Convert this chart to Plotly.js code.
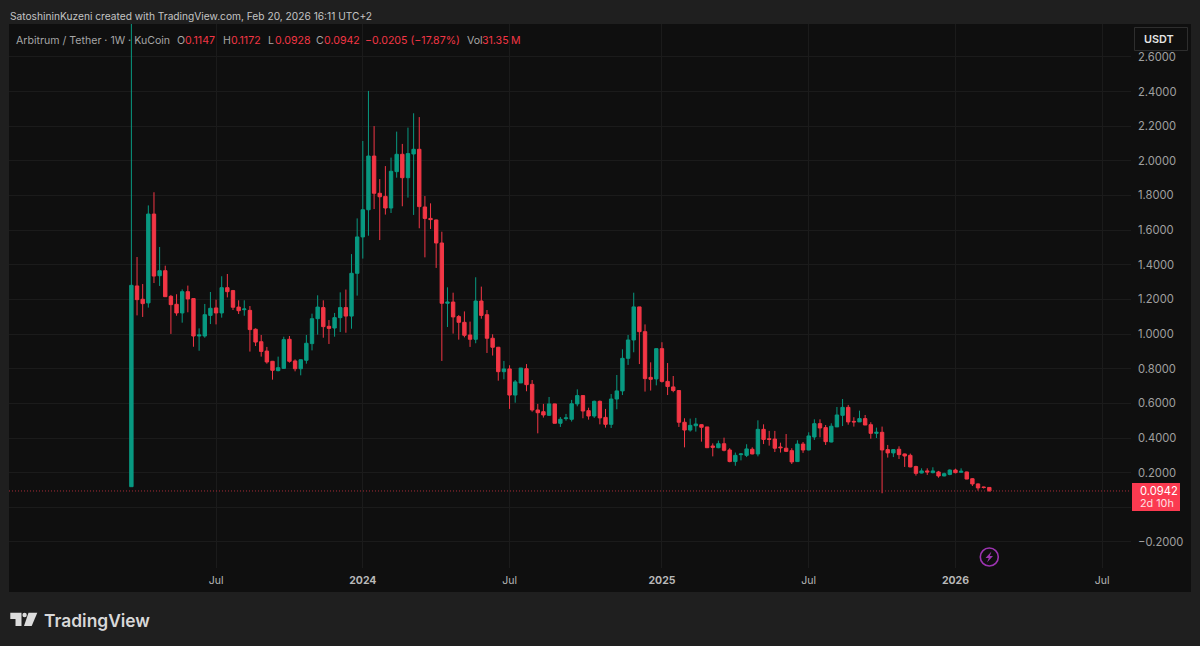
<!DOCTYPE html>
<html><head><meta charset="utf-8">
<script src="https://cdn.plot.ly/plotly-3.0.1.min.js"></script>
<style>html,body{margin:0;padding:0;background:#1f1f1f;overflow:hidden}#c{width:1200px;height:646px}</style>
</head><body><div id="c"></div>
<script>
const weeks = [
"2023-03-20","2023-03-27","2023-04-03","2023-04-10","2023-04-17","2023-04-24","2023-05-01","2023-05-08","2023-05-15","2023-05-22",
"2023-05-29","2023-06-05","2023-06-12","2023-06-19","2023-06-26","2023-07-03","2023-07-10","2023-07-17","2023-07-24","2023-07-31",
"2023-08-07","2023-08-14","2023-08-21","2023-08-28","2023-09-04","2023-09-11","2023-09-18","2023-09-25","2023-10-02","2023-10-09",
"2023-10-16","2023-10-23","2023-10-30","2023-11-06","2023-11-13","2023-11-20","2023-11-27","2023-12-04","2023-12-11","2023-12-18",
"2023-12-25","2024-01-01","2024-01-08","2024-01-15","2024-01-22","2024-01-29","2024-02-05","2024-02-12","2024-02-19","2024-02-26",
"2024-03-04","2024-03-11","2024-03-18","2024-03-25","2024-04-01","2024-04-08","2024-04-15","2024-04-22","2024-04-29","2024-05-06",
"2024-05-13","2024-05-20","2024-05-27","2024-06-03","2024-06-10","2024-06-17","2024-06-24","2024-07-01","2024-07-08","2024-07-15",
"2024-07-22","2024-07-29","2024-08-05","2024-08-12","2024-08-19","2024-08-26","2024-09-02","2024-09-09","2024-09-16","2024-09-23",
"2024-09-30","2024-10-07","2024-10-14","2024-10-21","2024-10-28","2024-11-04","2024-11-11","2024-11-18","2024-11-25","2024-12-02",
"2024-12-09","2024-12-16","2024-12-23","2024-12-30","2025-01-06","2025-01-13","2025-01-20","2025-01-27","2025-02-03","2025-02-10",
"2025-02-17","2025-02-24","2025-03-03","2025-03-10","2025-03-17","2025-03-24","2025-03-31","2025-04-07","2025-04-14","2025-04-21",
"2025-04-28","2025-05-05","2025-05-12","2025-05-19","2025-05-26","2025-06-02","2025-06-09","2025-06-16","2025-06-23","2025-06-30",
"2025-07-07","2025-07-14","2025-07-21","2025-07-28","2025-08-04","2025-08-11","2025-08-18","2025-08-25","2025-09-01","2025-09-08",
"2025-09-15","2025-09-22","2025-09-29","2025-10-06","2025-10-13","2025-10-20","2025-10-27","2025-11-03","2025-11-10","2025-11-17",
"2025-11-24","2025-12-01","2025-12-08","2025-12-15","2025-12-22","2025-12-29","2026-01-05","2026-01-12","2026-01-19","2026-01-26",
"2026-02-02","2026-02-09","2026-02-16"];
const opens = [
.119,1.278,1.201,1.180,1.693,1.337,1.366,1.218,1.172,1.122,
1.245,1.205,.989,.989,1.108,1.151,1.122,1.268,1.251,1.156,
1.141,1.137,1.028,.956,.902,.843,.789,.802,.970,.845,
.800,.849,.945,1.089,1.153,1.045,1.035,1.095,1.153,1.104,
1.351,1.561,1.718,2.028,1.813,1.795,1.728,1.938,2.038,1.903,
2.040,2.067,1.734,1.668,1.659,1.526,1.178,1.185,1.101,1.068,
.995,.970,1.191,1.112,.976,.924,.783,.799,.648,.718,
.800,.710,.562,.552,.531,.597,.485,.512,.508,.597,
.645,.558,.527,.612,.519,.479,.625,.672,.860,.966,
1.157,1.014,.750,.741,.916,.727,.695,.674,.491,.446,
.471,.477,.464,.354,.344,.367,.331,.264,.304,.300,
.335,.308,.450,.396,.394,.348,.341,.327,.264,.365,
.331,.406,.483,.460,.377,.464,.531,.577,.496,.493,
.512,.477,.427,.433,.333,.314,.335,.308,.300,.235,
.198,.210,.200,.204,.181,.190,.215,.202,.204,.165,
.135,.117,.1147];
const highs = [
3.000,1.445,1.289,1.743,1.819,1.503,1.395,1.226,1.230,1.258,
1.280,1.205,1.033,1.174,1.243,1.199,1.334,1.347,1.255,1.195,
1.195,1.162,1.033,.995,.926,.845,.870,.985,.989,.854,
.854,.995,1.118,1.224,1.195,1.081,1.122,1.241,1.257,1.462,
1.668,2.115,2.404,2.201,1.895,1.970,2.019,2.169,2.098,2.192,
2.275,2.253,1.797,1.755,1.661,1.591,1.270,1.239,1.110,1.131,
1.072,1.328,1.274,1.139,.999,.926,.845,.820,.735,.804,
.827,.735,.597,.597,.637,.598,.521,.539,.620,.681,
.648,.575,.616,.616,.568,.654,.764,.912,.995,1.239,
1.157,1.056,.837,.918,.953,.833,.758,.675,.514,.512,
.516,.479,.464,.369,.385,.402,.341,.316,.312,.364,
.346,.502,.479,.441,.441,.373,.423,.341,.387,.377,
.433,.508,.508,.475,.485,.579,.625,.591,.520,.558,
.533,.491,.460,.466,.360,.335,.352,.310,.310,.240,
.225,.225,.231,.210,.200,.219,.223,.225,.206,.169,
.138,.119,.1172];
const lows = [
.119,1.108,1.099,1.153,1.295,1.278,1.216,1.001,1.106,1.066,
1.126,.927,.904,.979,1.058,1.056,1.095,1.212,1.139,1.116,
1.106,.899,.931,.870,.829,.737,.785,.799,.835,.785,
.762,.829,.906,.997,.979,.943,.985,1.012,1.008,1.031,
1.222,1.436,1.568,1.722,1.543,1.690,1.699,1.903,1.738,1.788,
1.688,1.611,1.443,1.607,1.382,.845,1.041,1.003,.968,.981,
.926,.947,1.089,.891,.876,.731,.739,.568,.604,.718,
.670,.552,.427,.518,.527,.485,.464,.500,.495,.583,
.514,.506,.516,.479,.460,.458,.566,.648,.822,.895,
.827,.668,.674,.704,.720,.648,.664,.464,.346,.437,
.437,.379,.344,.294,.341,.323,.260,.240,.271,.290,
.306,.294,.365,.356,.319,.316,.319,.250,.262,.314,
.329,.389,.404,.360,.375,.464,.469,.477,.466,.493,
.475,.396,.400,.081,.287,.290,.279,.233,.231,.183,
.196,.187,.196,.171,.179,.185,.196,.200,.162,.123,
.096,.108,.0928];
const closes = [
1.2815,1.199,1.176,1.693,1.335,1.366,1.216,1.170,1.122,1.245,
1.203,.989,.995,1.112,1.149,1.122,1.268,1.245,1.155,1.135,
1.145,1.026,.954,.900,.839,.791,.806,.968,.843,.800,
.852,.947,1.089,1.156,1.043,1.033,1.095,1.153,1.104,1.351,
1.561,1.718,2.028,1.813,1.793,1.728,1.940,2.038,1.903,2.042,
2.067,1.736,1.668,1.661,1.526,1.178,1.185,1.099,1.068,.993,
.970,1.191,1.108,.976,.924,.783,.799,.648,.724,.804,
.708,.562,.546,.533,.597,.485,.508,.516,.598,.645,
.556,.527,.612,.516,.479,.625,.672,.860,.966,1.157,
1.014,.743,.739,.916,.727,.697,.674,.491,.446,.473,
.481,.462,.344,.346,.367,.329,.264,.300,.308,.337,
.308,.450,.392,.392,.341,.344,.323,.262,.365,.331,
.412,.483,.458,.379,.468,.533,.577,.493,.493,.512,
.475,.427,.433,.331,.314,.333,.304,.296,.233,.196,
.210,.204,.210,.181,.194,.215,.200,.208,.163,.135,
.112,.1147,.0942];
const yTickVals = [-0.2,0,0.2,0.4,0.6,0.8,1,1.2,1.4,1.6,1.8,2,2.2,2.4,2.6];
const yTickText = ["\u22120.2000","","0.2000","0.4000","0.6000","0.8000","1.0000","1.2000","1.4000","1.6000","1.8000","2.0000","2.2000","2.4000","2.6000"];
const xTickVals = ["2023-07-03","2024-01-01","2024-07-01","2025-01-06","2025-07-07","2026-01-05","2026-07-06"];
const xTickText = ["Jul","<b>2024</b>","Jul","<b>2025</b>","Jul","<b>2026</b>","Jul"];

const RED="#f23645", GREEN="#089981", FONT="Inter, 'Liberation Sans', sans-serif";
const L=9,R=1131,T=24,B=568;
const px=x=>(x-L)/(R-L), py=y=>1-(y-T)/(B-T);
const P=(pts,close=true)=>pts.map((p,i)=>(i?"L":"M")+px(p[0])+","+py(p[1])).join("")+(close?"Z":"");
const paperShape=o=>Object.assign({xref:"paper",yref:"paper",line:{width:0}},o);
const txt=(x,y,t,size,color,extra={})=>Object.assign({xref:"paper",yref:"paper",x:px(x),y:py(y),text:t,showarrow:false,xanchor:"left",yanchor:"middle",borderpad:0,font:{family:FONT,size:size,color:color}},extra);

const shapes=[
 paperShape({type:"rect",x0:px(9),x1:px(1191),y0:py(24),y1:py(592),fillcolor:"#0f0f0f",layer:"below"}),
 {type:"line",xref:"paper",yref:"y",x0:0,x1:1,y0:closes[closes.length-1],y1:closes[closes.length-1],line:{color:"#a82c38",width:1,dash:"1px,2px"},layer:"above"},
 paperShape({type:"rect",x0:px(1132),x1:px(1180),y0:py(483),y1:py(511),fillcolor:"#fb3a50",layer:"above"}),
 paperShape({type:"rect",x0:px(1134.5),x1:px(1187.5),y0:py(27.5),y1:py(50.5),fillcolor:"#0f0f0f",line:{color:"#2e2e2e",width:1},layer:"above"}),
 paperShape({type:"circle",x0:px(980.3),x1:px(998.3),y0:py(548),y1:py(566),fillcolor:"rgba(0,0,0,0)",line:{color:"#9c34b0",width:1.6},layer:"above"}),
 paperShape({type:"path",path:P([[991.5,551.5],[985.5,558],[988.8,558],[987,562.5],[993,556],[989.8,556]]),fillcolor:"#9c34b0",layer:"above"}),
 paperShape({type:"path",path:P([[10.3,612.7],[21.5,612.7],[21.5,626],[15.5,626],[15.5,619],[10.3,619]]),fillcolor:"#dcdcdc",layer:"above"}),
 paperShape({type:"circle",x0:px(22.4),x1:px(26.8),y0:py(612.8),y1:py(617.2),fillcolor:"#dcdcdc",layer:"above"}),
 paperShape({type:"path",path:P([[28.5,612.7],[37.3,612.7],[31.7,626],[24,626]]),fillcolor:"#dcdcdc",layer:"above"})
];
const LS=10.6;
const annos=[
 txt(9,16,"SatoshininKuzeni created with TradingView.com, Feb 20, 2026 16:11 UTC+2",10.2,"#c4c4c4"),
 txt(15,40,"Arbitrum / Tether \u00b7 1W \u00b7 KuCoin",LS,"#a6a6a6"),
 txt(176,40,"O",LS,"#a6a6a6"),txt(184,40,"0.1147",LS,RED),
 txt(222,40,"H",LS,"#a6a6a6"),txt(230,40,"0.1172",LS,RED),
 txt(267,40,"L",LS,"#a6a6a6"),txt(274,40,"0.0928",LS,RED),
 txt(315,40,"C",LS,"#a6a6a6"),txt(323,40,"0.0942",LS,RED),
 txt(364,40,"\u22120.0205 (\u221217.87%)",LS,RED),
 txt(466,40,"Vol",LS,"#a6a6a6"),txt(481,40,"31.35",LS,RED),txt(510,40,"M",LS,RED),
 txt(1143,39,"USDT",10.8,"#e4e4e4",{font:{family:FONT,size:10.8,color:"#e4e4e4",weight:600}}),
 txt(1139,491,"0.0942",11.2,"#ffffff"),
 txt(1139,503.5,"2d 10h",10.8,"#ffe0e3"),
 txt(43,620,"TradingView",17.4,"#d8d8d8",{font:{family:FONT,size:17.4,color:"#d8d8d8",weight:600}})
];
const trace={type:"candlestick",x:weeks,open:opens,high:highs,low:lows,close:closes,whiskerwidth:0,
 increasing:{line:{color:GREEN,width:1},fillcolor:GREEN},
 decreasing:{line:{color:RED,width:1},fillcolor:RED},showlegend:false,hoverinfo:"skip"};
const layout={
 width:1200,height:646,paper_bgcolor:"#1f1f1f",plot_bgcolor:"#0f0f0f",showlegend:false,boxgap:0.4,boxgroupgap:0,boxmode:"overlay",
 margin:{l:L,r:1200-R,t:T,b:646-B,autoexpand:false},
 font:{family:FONT},
 xaxis:{type:"date",range:["2022-10-19 05:00","2026-08-10 17:00"],rangeslider:{visible:false},tickmode:"array",tickvals:xTickVals,ticktext:xTickText,
  showgrid:true,gridcolor:"#1b1b1b",gridwidth:1,zeroline:false,showline:false,ticks:"",tickangle:0,tickfont:{size:10.5,color:"#b8b8b8",family:FONT},ticklabelstandoff:4,fixedrange:true},
 yaxis:{side:"right",range:[-0.3505,2.7904],tickmode:"array",tickvals:yTickVals,ticktext:yTickText,showgrid:true,gridcolor:"#1b1b1b",gridwidth:1,zeroline:false,showline:false,ticks:"",
  tickfont:{size:11.2,color:"#a0a0a0",family:FONT},ticklabelstandoff:6,fixedrange:true},
 shapes:shapes,annotations:annos
};
Plotly.newPlot("c",[trace],layout,{displayModeBar:false,staticPlot:true});
</script></body></html>
